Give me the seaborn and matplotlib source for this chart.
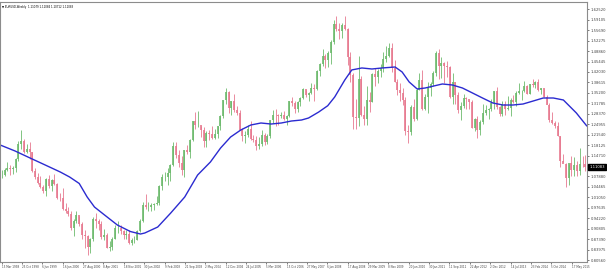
import numpy as np
import pandas as pd
import matplotlib
matplotlib.use("Agg")
import matplotlib.pyplot as plt
import matplotlib.transforms as mtransforms
import seaborn as sns

# ---------------- data (monthly EURUSD, read/estimated) ----------------
month_start = "1998-03-01"
month_end = "2015-10-01"

highs = [
    1.1000, 1.1050, 1.1250, 1.1150, 1.1130, 1.1400, 1.1950, 1.2300, 1.2000, 1.1850,  # 1998
    1.1900, 1.1600, 1.1080, 1.0900, 1.0820, 1.0500, 1.0750, 1.0840, 1.0700, 1.0880, 1.0560, 1.0250,  # 1999
    1.0400, 0.9920, 0.9800, 0.9650, 0.9400, 0.9650, 0.9500, 0.9290, 0.9040, 0.8860, 0.8780, 0.9450,  # 2000
    0.9590, 0.9400, 0.9350, 0.9080, 0.8950, 0.8670, 0.8800, 0.9200, 0.9330, 0.9200, 0.9050, 0.9050,  # 2001
    0.9050, 0.8790, 0.8850, 0.9030, 0.9400, 0.9950, 1.0200, 0.9950, 0.9920, 0.9920, 1.0150, 1.0500,  # 2002
    1.0870, 1.0950, 1.1080, 1.1200, 1.1930, 1.1930, 1.1650, 1.1450, 1.1650, 1.1830, 1.2000, 1.2600,  # 2003
    1.2900, 1.2930, 1.2450, 1.2420, 1.2280, 1.2300, 1.2450, 1.2330, 1.2440, 1.2800, 1.3300, 1.3670,  # 2004
    1.3580, 1.3270, 1.3480, 1.3100, 1.2960, 1.2380, 1.2260, 1.2480, 1.2600, 1.2140, 1.2100, 1.2090,  # 2005
    1.2300, 1.2200, 1.2180, 1.2640, 1.2970, 1.2980, 1.2840, 1.2900, 1.2920, 1.2790, 1.3270, 1.3370,  # 2006
    1.3250, 1.3250, 1.3380, 1.3680, 1.3630, 1.3550, 1.3850, 1.3810, 1.4280, 1.4510, 1.4970, 1.4790,  # 2007
    1.4900, 1.5250, 1.5910, 1.6020, 1.5800, 1.5800, 1.6040, 1.5640, 1.4870, 1.4170, 1.3310, 1.4720,  # 2008
    1.4080, 1.3080, 1.3740, 1.3550, 1.4170, 1.4340, 1.4300, 1.4450, 1.4840, 1.5060, 1.5140, 1.5140,  # 2009
    1.4580, 1.3960, 1.3830, 1.3690, 1.3400, 1.2480, 1.3110, 1.3330, 1.3670, 1.4160, 1.4280, 1.3500,  # 2010
    1.3860, 1.3860, 1.4250, 1.4880, 1.4940, 1.4700, 1.4530, 1.4550, 1.4390, 1.4170, 1.3860, 1.3550,  # 2011
    1.3230, 1.3490, 1.3390, 1.3280, 1.3280, 1.2700, 1.2760, 1.2650, 1.3170, 1.3140, 1.3010, 1.3310,  # 2012
    1.3590, 1.3710, 1.3080, 1.3240, 1.3240, 1.3420, 1.3340, 1.3450, 1.3570, 1.3830, 1.3620, 1.3900,  # 2013
    1.3780, 1.3820, 1.3970, 1.3910, 1.3990, 1.3680, 1.3650, 1.3450, 1.3180, 1.2890, 1.2610, 1.2570,  # 2014
    1.2100, 1.1530, 1.1240, 1.1200, 1.1470, 1.1440, 1.1280, 1.1714, 1.1460, 1.1495,  # 2015
]
lows = [
    1.0750, 1.0790, 1.0980, 1.0850, 1.0880, 1.0950, 1.1300, 1.1700, 1.1550, 1.1550,  # 1998
    1.1350, 1.0950, 1.0700, 1.0550, 1.0420, 1.0250, 1.0150, 1.0400, 1.0300, 1.0500, 1.0050, 1.0000,  # 1999
    0.9700, 0.9600, 0.9500, 0.9050, 0.8850, 0.9260, 0.9180, 0.8760, 0.8450, 0.8230, 0.8300, 0.8680,  # 2000
    0.9100, 0.9030, 0.8750, 0.8720, 0.8440, 0.8350, 0.8380, 0.8730, 0.8950, 0.8900, 0.8760, 0.8750,  # 2001
    0.8580, 0.8560, 0.8600, 0.8700, 0.8990, 0.9300, 0.9720, 0.9650, 0.9650, 0.9700, 0.9870, 0.9860,  # 2002
    1.0350, 1.0640, 1.0500, 1.0640, 1.1130, 1.1400, 1.1100, 1.0850, 1.0770, 1.1520, 1.1400, 1.1950,  # 2003
    1.2350, 1.2400, 1.2080, 1.1760, 1.1760, 1.1980, 1.2000, 1.2000, 1.2050, 1.2300, 1.2700, 1.3150,  # 2004
    1.2870, 1.2800, 1.2880, 1.2800, 1.2300, 1.1950, 1.1870, 1.2080, 1.1990, 1.1900, 1.1640, 1.1690,  # 2005
    1.1800, 1.1830, 1.1860, 1.2060, 1.2540, 1.2450, 1.2480, 1.2690, 1.2620, 1.2480, 1.2740, 1.3100,  # 2006
    1.2860, 1.2910, 1.3090, 1.3320, 1.3400, 1.3260, 1.3500, 1.3260, 1.3600, 1.4060, 1.4410, 1.4330,  # 2007
    1.4380, 1.4480, 1.5130, 1.5550, 1.5280, 1.5300, 1.5570, 1.4430, 1.3880, 1.2330, 1.2330, 1.2440,  # 2008
    1.2750, 1.2460, 1.2470, 1.2880, 1.3210, 1.3740, 1.3850, 1.4050, 1.4200, 1.4540, 1.4680, 1.4210,  # 2009
    1.3860, 1.3440, 1.3270, 1.3120, 1.2140, 1.1880, 1.2140, 1.2590, 1.2640, 1.3620, 1.2970, 1.2970,  # 2010
    1.2870, 1.3430, 1.3750, 1.4080, 1.3970, 1.4000, 1.3840, 1.4050, 1.3360, 1.3150, 1.3150, 1.2860,  # 2011
    1.2620, 1.3010, 1.3000, 1.3000, 1.2370, 1.2290, 1.2040, 1.2130, 1.2500, 1.2800, 1.2660, 1.2920,  # 2012
    1.3000, 1.3000, 1.2750, 1.2750, 1.2800, 1.2950, 1.2750, 1.3200, 1.3100, 1.3480, 1.3300, 1.3540,  # 2013
    1.3480, 1.3480, 1.3710, 1.3670, 1.3580, 1.3500, 1.3370, 1.3150, 1.2570, 1.2490, 1.2360, 1.2100,  # 2014
    1.1100, 1.1260, 1.0460, 1.0520, 1.0820, 1.0820, 1.0810, 1.0850, 1.1090, 1.0960,  # 2015
]
closes = [
    1.0830, 1.1000, 1.1080, 1.1020, 1.1050, 1.1350, 1.1850, 1.1950, 1.1600, 1.1700,  # 1998
    1.1580, 1.0980, 1.0770, 1.0580, 1.0430, 1.0330, 1.0690, 1.0480, 1.0680, 1.0550, 1.0090, 1.0070,  # 1999
    0.9720, 0.9650, 0.9570, 0.9100, 0.9340, 0.9530, 0.9230, 0.8880, 0.8830, 0.8500, 0.8730, 0.9400,  # 2000
    0.9350, 0.9230, 0.8820, 0.8890, 0.8460, 0.8490, 0.8760, 0.9110, 0.9110, 0.9000, 0.8890, 0.8900,  # 2001
    0.8600, 0.8700, 0.8720, 0.9020, 0.9330, 0.9870, 0.9780, 0.9800, 0.9860, 0.9880, 0.9930, 1.0490,  # 2002
    1.0770, 1.0780, 1.0910, 1.1170, 1.1800, 1.1490, 1.1230, 1.0990, 1.1650, 1.1590, 1.1990, 1.2590,  # 2003
    1.2460, 1.2480, 1.2300, 1.1960, 1.2200, 1.2180, 1.2030, 1.2180, 1.2430, 1.2770, 1.3290, 1.3550,  # 2004
    1.3040, 1.3240, 1.2960, 1.2860, 1.2300, 1.2100, 1.2130, 1.2340, 1.2020, 1.1990, 1.1790, 1.1840,  # 2005
    1.2150, 1.1910, 1.2110, 1.2620, 1.2800, 1.2790, 1.2770, 1.2810, 1.2680, 1.2760, 1.3240, 1.3190,  # 2006
    1.2990, 1.3230, 1.3350, 1.3650, 1.3450, 1.3530, 1.3680, 1.3640, 1.4250, 1.4480, 1.4710, 1.4590,  # 2007
    1.4830, 1.5180, 1.5780, 1.5610, 1.5550, 1.5750, 1.5610, 1.4680, 1.4090, 1.2720, 1.2700, 1.3970,  # 2008
    1.2800, 1.2670, 1.3280, 1.3230, 1.4140, 1.4030, 1.4250, 1.4330, 1.4640, 1.4720, 1.5000, 1.4320,  # 2009
    1.3870, 1.3630, 1.3510, 1.3300, 1.2270, 1.2240, 1.3050, 1.2680, 1.3630, 1.3930, 1.2990, 1.3370,  # 2010
    1.3690, 1.3820, 1.4160, 1.4810, 1.4390, 1.4500, 1.4400, 1.4380, 1.3390, 1.3860, 1.3450, 1.2960,  # 2011
    1.3080, 1.3340, 1.3320, 1.3230, 1.2370, 1.2660, 1.2300, 1.2580, 1.2860, 1.2960, 1.2990, 1.3190,  # 2012
    1.3580, 1.3060, 1.2820, 1.3170, 1.2990, 1.3010, 1.3300, 1.3220, 1.3520, 1.3580, 1.3590, 1.3750,  # 2013
    1.3490, 1.3800, 1.3770, 1.3870, 1.3630, 1.3690, 1.3390, 1.3130, 1.2630, 1.2530, 1.2450, 1.2100,  # 2014
    1.1290, 1.1190, 1.0730, 1.1220, 1.0990, 1.1150, 1.0980, 1.1210, 1.1180, 1.1108,  # 2015
]

# moving average line (blue): dates and prices
ma_dates = [
    "1998-02-26", "1998-08-09", "1999-01-21", "1999-07-07", "1999-12-20", "2000-04-01",
    "2000-07-15", "2000-10-10", "2000-12-30", "2001-04-07", "2001-09-08", "2002-01-29",
    "2002-05-20", "2002-07-06", "2002-11-26", "2003-04-18", "2003-09-19", "2004-02-08",
    "2004-06-28", "2004-10-18", "2005-02-05", "2005-05-28", "2005-09-16", "2006-01-05",
    "2006-04-27", "2006-08-17", "2006-12-06", "2007-03-28", "2007-06-13", "2007-10-03",
    "2008-01-10", "2008-03-27", "2008-07-16", "2008-10-01", "2009-01-20", "2009-05-11",
    "2009-08-30", "2010-01-21", "2010-04-08", "2010-06-25", "2010-09-21", "2010-12-18",
    "2011-06-25", "2011-10-13", "2012-02-01", "2012-05-22", "2012-09-09", "2012-12-31",
    "2013-04-21", "2013-08-09", "2013-11-29", "2014-03-21", "2014-07-09", "2014-10-28",
    "2015-02-16", "2015-07-09", "2015-11-01",
]
ma_values = [
    1.1817, 1.1621, 1.1392, 1.1163, 1.0934, 1.0770,
    1.0560, 1.0120, 0.9790, 0.9560, 0.9202, 0.8990,
    0.8908, 0.8941, 0.9137, 0.9594, 1.0117, 1.0836,
    1.1262, 1.1719, 1.2078, 1.2307, 1.2471, 1.2536,
    1.2503, 1.2536, 1.2601, 1.2634, 1.2699, 1.2895,
    1.3100, 1.3386, 1.3941, 1.4270, 1.4334, 1.4301,
    1.4334, 1.4366, 1.4203, 1.3876, 1.3647, 1.3680,
    1.3811, 1.3778, 1.3680, 1.3516, 1.3353, 1.3190,
    1.3124, 1.3124, 1.3157, 1.3255, 1.3353, 1.3353,
    1.3288, 1.2863, 1.2438,
]

y_tick_values = [
    1.62520, 1.59105, 1.55690, 1.52275, 1.48860, 1.45445, 1.42030, 1.38615,
    1.35200, 1.31785, 1.28370, 1.24955, 1.21540, 1.18125, 1.14710,
    1.07880, 1.04465, 1.01050, 0.97635, 0.94220, 0.90805, 0.87390, 0.83975, 0.80560,
]
x_tick_labels = [
    "15 Mar 1998", "25 Oct 1998", "6 Jun 1999", "16 Jan 2000", "27 Aug 2000",
    "8 Apr 2001", "18 Nov 2001", "30 Jun 2002", "9 Feb 2003", "21 Sep 2003",
    "2 May 2004", "12 Dec 2004", "24 Jul 2005", "5 Mar 2006", "15 Oct 2006",
    "27 May 2007", "6 Jan 2008", "17 Aug 2008", "29 Mar 2009", "8 Nov 2009",
    "20 Jun 2010", "30 Jan 2011", "11 Sep 2011", "22 Apr 2012", "2 Dec 2012",
    "14 Jul 2013", "23 Feb 2014", "5 Oct 2014", "17 May 2015",
]
title_text = "\u25bc EURUSD,Weekly  1.11079 1.11084 1.10712 1.11083"
last_price = 1.11083

# ---------------- build frames ----------------
dates = pd.date_range(month_start, month_end, freq="MS") + pd.Timedelta(days=14)
assert len(dates) == len(highs) == len(lows) == len(closes)
assert len(ma_dates) == len(ma_values)
df = pd.DataFrame({"date": dates, "high": highs, "low": lows, "close": closes})
df["open"] = df["close"].shift(1).fillna(df["close"].iloc[0])
df["up"] = df["close"] >= df["open"]

ma_df = pd.DataFrame({"date": pd.to_datetime(ma_dates), "ma": ma_values})
tick_dates = pd.to_datetime(x_tick_labels, format="%d %b %Y")

# ---------------- plot ----------------
sns.set_theme(style="white")
plt.rcParams["font.family"] = ["DejaVu Sans"]

fig = plt.figure(figsize=(6.07, 2.80), dpi=100)
ax = fig.add_axes([0.0, 18 / 280, 587 / 607, 260 / 280])

green = "#6cba6c"
red = "#e7798f"
for is_up, col in ((True, green), (False, red)):
    sub = df[df["up"] == is_up]
    ax.vlines(sub["date"], sub["low"], sub["high"], color=col, lw=0.6)
    ax.vlines(sub["date"], np.minimum(sub["open"], sub["close"]),
              np.maximum(sub["open"], sub["close"]), color=col, lw=1.2)

sns.lineplot(data=ma_df, x="date", y="ma", ax=ax, color="#2b2bd0", lw=1.0)

base = pd.Timestamp("1998-03-15")
ax.set_xlim(base - pd.Timedelta(days=19), base + pd.Timedelta(days=6442))
ax.set_ylim(0.7994, 1.6490)

ax.yaxis.tick_right()
ax.set_yticks(y_tick_values)
ax.set_yticklabels([f"{v:.5f}" for v in y_tick_values])
ax.set_xticks(tick_dates)
ax.set_xticklabels(x_tick_labels, ha="left")
ax.tick_params(axis="both", colors="#444444", length=1.5, width=0.5,
               pad=1.0, direction="out")
ax.tick_params(axis="y", right=True, left=False, labelsize=2.7)
ax.tick_params(axis="x", bottom=True, labelsize=2.0)
ax.set_xlabel("")
ax.set_ylabel("")
for s in ax.spines.values():
    s.set_color("#8c8c8c")
    s.set_linewidth(0.8)

# current price box
trans = mtransforms.blended_transform_factory(ax.transAxes, ax.transData)
ax.text(1.004, last_price, f"{last_price:.5f}", transform=trans, fontsize=2.7,
        color="white", va="center", ha="left",
        bbox=dict(boxstyle="square,pad=0.3", fc="black", ec="black"))

ax.text(0.004, 0.988, title_text, transform=ax.transAxes, fontsize=1.9,
        color="black", va="top", ha="left")

fig.savefig("out.png", dpi=100, facecolor="white")
